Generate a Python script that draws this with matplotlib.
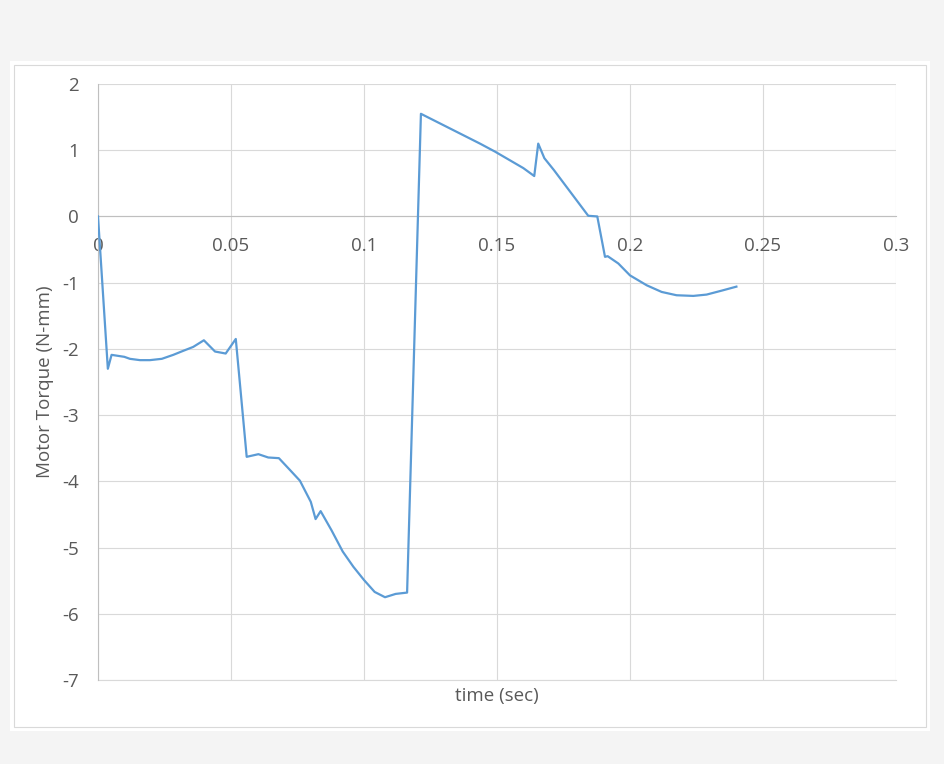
import matplotlib
matplotlib.use('Agg')

import matplotlib.pyplot as plt
from matplotlib.patches import Rectangle

time_s = [0.0, 0.0037, 0.0051, 0.0099, 0.012, 0.0158, 0.0195, 0.024, 0.0283,
          0.032, 0.0358, 0.0398, 0.044, 0.048, 0.0518, 0.0559, 0.0603, 0.064,
          0.068, 0.0722, 0.0759, 0.080, 0.0818, 0.0837, 0.0878, 0.092, 0.096,
          0.100, 0.104, 0.1079, 0.1119, 0.1162, 0.1214, 0.1436, 0.1492,
          0.1599, 0.164, 0.1655, 0.1678, 0.1714, 0.1843, 0.1877, 0.1906,
          0.1916, 0.1956, 0.200, 0.2063, 0.2119, 0.2175, 0.2238, 0.2288,
          0.2345, 0.240]
torque = [0.0, -2.30, -2.09, -2.12, -2.15, -2.17, -2.17, -2.15, -2.09,
          -2.03, -1.97, -1.87, -2.04, -2.07, -1.85, -3.63, -3.59, -3.64,
          -3.65, -3.83, -3.99, -4.31, -4.57, -4.45, -4.74, -5.06, -5.29,
          -5.49, -5.67, -5.75, -5.70, -5.68, 1.55, 1.10, 0.98,
          0.73, 0.61, 1.10, 0.88, 0.70, 0.01, 0.0, -0.61,
          -0.60, -0.71, -0.89, -1.04, -1.14, -1.19, -1.20, -1.18,
          -1.12, -1.06]

x_ticks = [0, 0.05, 0.1, 0.15, 0.2, 0.25, 0.3]
x_labels = ['0', '0.05', '0.1', '0.15', '0.2', '0.25', '0.3']
y_ticks = [2, 1, 0, -1, -2, -3, -4, -5, -6, -7]

TXT = '#595959'
GRID = '#d9d9d9'
plt.rcParams['font.family'] = ['Open Sans', 'DejaVu Sans']
plt.rcParams['axes.unicode_minus'] = False

W, H = 944, 764
fig = plt.figure(figsize=(W / 100, H / 100), dpi=100, facecolor='#f4f4f4')

# białe pole wykresu z ramką
fig.patches.append(Rectangle((10 / W, 1 - 731 / H), 920 / W, 670 / H,
                             transform=fig.transFigure, facecolor='white',
                             edgecolor='none', zorder=-10))
fig.patches.append(Rectangle((14 / W, 1 - 727 / H), 912 / W, 662 / H,
                             transform=fig.transFigure, facecolor='white',
                             edgecolor=GRID, linewidth=0.8, zorder=-9))

ax = fig.add_axes([98 / W, 1 - 680 / H, 798 / W, 596 / H])
ax.set_zorder(1)
ax.set_facecolor('white')
ax.plot(time_s, torque, color='#5b9bd5', linewidth=1.6, zorder=3)

ax.set_xlim(0, 0.3)
ax.set_ylim(-7, 2)
ax.set_xticks(x_ticks)
ax.set_xticklabels(x_labels)
ax.set_yticks(y_ticks)
ax.grid(True, color=GRID, linewidth=0.8)
ax.set_axisbelow(True)
ax.axhline(-7, color=GRID, linewidth=0.8, clip_on=False, zorder=0.5)

for s in ['top', 'right']:
    ax.spines[s].set_visible(False)
ax.spines['left'].set_color('#bfbfbf')
ax.spines['bottom'].set_color('#bfbfbf')
ax.spines['bottom'].set_position(('data', 0))
ax.spines['left'].set_linewidth(0.8)
ax.spines['bottom'].set_linewidth(0.8)

ax.tick_params(axis='x', length=0, pad=15, labelsize=13.5, labelcolor=TXT)
ax.tick_params(axis='y', length=0, pad=14, labelsize=13.5, labelcolor=TXT)

fig.text(497 / W, 1 - 696 / H, 'time (sec)', ha='center', va='center',
         fontsize=13.5, color=TXT)
fig.text(45 / W, 1 - 382 / H, 'Motor Torque (N-mm)', ha='center', va='center',
         rotation=90, fontsize=13.5, color=TXT)

fig.savefig('out.png', dpi=100, facecolor=fig.get_facecolor())
